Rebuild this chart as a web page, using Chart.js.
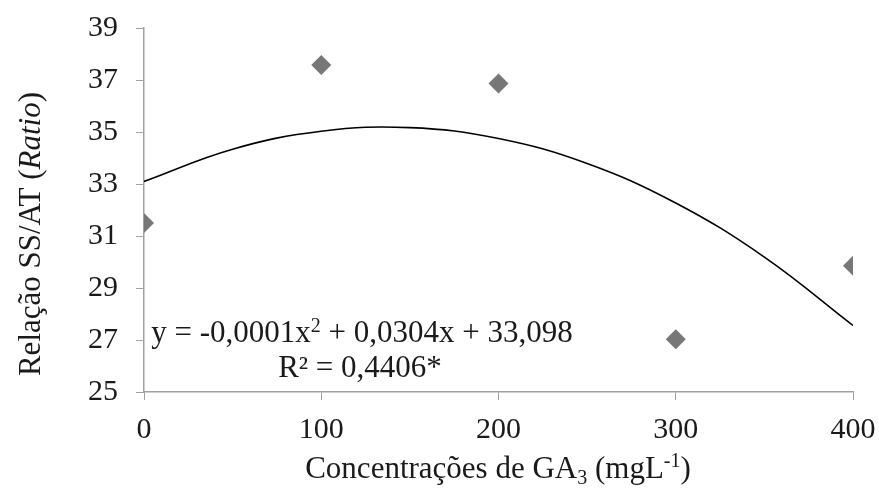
<!DOCTYPE html>
<html>
<head>
<meta charset="utf-8">
<script src="https://cdn.jsdelivr.net/npm/chart.js@4/dist/chart.umd.min.js"></script>
<style>
  body { margin: 0; background: #fff; }
</style>
</head>
<body>
<canvas id="myChart" width="879" height="488"></canvas>
<script>
// data
const doses = [0, 100, 200, 300, 400];
const ratio = [31.5, 37.58, 36.87, 27.03, 29.86];
// trendline as it is drawn in the picture
const trendX = [0, 50, 100, 150, 200, 250, 300, 350, 400];
const trendY = [33.1, 34.34, 35.03, 35.17, 34.75, 33.79, 32.27, 30.19, 27.56];
const yTicks = [25, 27, 29, 31, 33, 35, 37, 39];
const xTicks = [0, 100, 200, 300, 400];

const FONT = "Liberation Serif";
const TICK_SIZE = 30;
const SIZE = 31;
const TEXT = "#1a1a1a";
const AXIS = "#a0a0a0";

// draws a run of text pieces; each piece {t, italic, shift, scale}
function drawRuns(ctx, runs, x, y, align) {
  const fontOf = (r) =>
    (r.italic ? "italic " : "") + Math.round(SIZE * (r.scale || 1)) + "px '" + FONT + "'";
  let total = 0;
  runs.forEach((r) => {
    ctx.font = fontOf(r);
    total += ctx.measureText(r.t).width;
  });
  let cx = align === "center" ? x - total / 2 : x;
  runs.forEach((r) => {
    ctx.font = fontOf(r);
    ctx.fillText(r.t, cx, y + (r.shift || 0));
    cx += ctx.measureText(r.t).width;
  });
}

const textPlugin = {
  id: "texts",
  afterDraw(chart) {
    const ctx = chart.ctx;
    ctx.save();
    ctx.fillStyle = TEXT;
    ctx.textAlign = "left";
    ctx.textBaseline = "alphabetic";

    // y axis title
    ctx.save();
    ctx.translate(40, 234);
    ctx.rotate(-Math.PI / 2);
    drawRuns(ctx, [
      { t: "Relação SS/AT (" },
      { t: "Ratio", italic: true },
      { t: ")" },
    ], 0, 0, "center");
    ctx.restore();

    // x axis title
    drawRuns(ctx, [
      { t: "Concentrações de GA" },
      { t: "3", scale: 0.65, shift: 6 },
      { t: " (mgL" },
      { t: "-1", scale: 0.65, shift: -11 },
      { t: ")" },
    ], 498, 478, "center");

    // trendline equation
    drawRuns(ctx, [
      { t: "y = -0,0001x" },
      { t: "2", scale: 0.65, shift: -10 },
      { t: " + 0,0304x + 33,098" },
    ], 362, 342, "center");
    drawRuns(ctx, [{ t: "R² = 0,4406*" }], 360, 377, "center");

    ctx.restore();
  },
};

// keep the plot box fixed: no extra room for the end labels
const noPad = (s) => {
  s.paddingTop = 0;
  s.paddingBottom = 0;
  s.paddingLeft = 0;
  s.paddingRight = 0;
};

new Chart("myChart", {
  type: "scatter",
  data: {
    datasets: [
      {
        type: "line",
        data: trendX.map((x, i) => ({ x: x, y: trendY[i] })),
        borderColor: "#000",
        borderWidth: 1.6,
        pointRadius: 0,
        tension: 0.4,
        fill: false,
      },
      {
        data: doses.map((x, i) => ({ x: x, y: ratio[i] })),
        pointStyle: "rectRot",
        pointRadius: 10,
        backgroundColor: "#777777",
        borderColor: "#777777",
        borderWidth: 0,
      },
    ],
  },
  options: {
    responsive: false,
    animation: false,
    layout: { padding: { top: 28, right: 26, left: 0, bottom: 0 } },
    plugins: { legend: { display: false }, tooltip: { enabled: false } },
    scales: {
      x: {
        type: "linear",
        min: 0,
        max: 400,
        afterBuildTicks: (s) => { s.ticks = xTicks.map((v) => ({ value: v })); },
        afterFit: (s) => { s.height = 96; noPad(s); },
        ticks: { font: { family: FONT, size: TICK_SIZE }, color: TEXT, padding: 12 },
        grid: { drawOnChartArea: false, tickLength: 8, color: AXIS },
        border: { color: AXIS, width: 1.5 },
      },
      y: {
        min: 25,
        max: 39,
        afterBuildTicks: (s) => { s.ticks = yTicks.map((v) => ({ value: v })); },
        afterFit: (s) => { s.width = 144; noPad(s); },
        ticks: { font: { family: FONT, size: TICK_SIZE }, color: TEXT, padding: 18 },
        grid: { drawOnChartArea: false, tickLength: 8, color: AXIS },
        border: { color: AXIS, width: 1.5 },
      },
    },
  },
  plugins: [textPlugin],
});
</script>
</body>
</html>
